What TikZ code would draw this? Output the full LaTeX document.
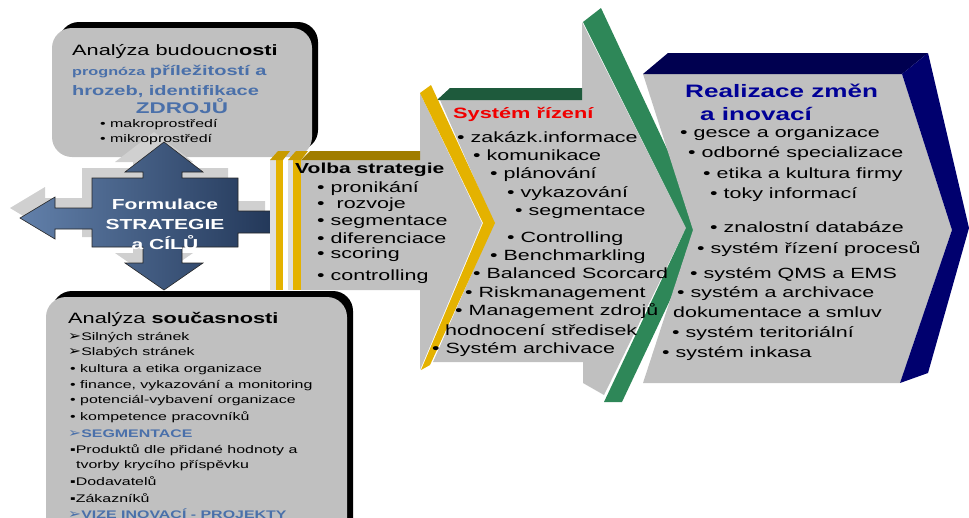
\documentclass[tikz,border=0pt]{standalone}
\usepackage{fontspec}
\setmainfont[FakeStretch=1.45]{Liberation Sans}
\newfontfamily\symfont[FakeStretch=1.2]{DejaVu Sans}
\usepackage{tikz}
\usetikzlibrary{positioning}
\usepackage{xcolor}
\definecolor{panelgray}{RGB}{192,192,192}
\definecolor{ghostgray}{RGB}{208,208,208}
\definecolor{crossL}{RGB}{98,128,170}
\definecolor{crossR}{RGB}{34,55,88}
\definecolor{baryellow}{RGB}{228,178,0}
\definecolor{capyellow}{RGB}{200,155,0}
\definecolor{olivetop}{RGB}{160,125,0}
\definecolor{greentop}{RGB}{30,90,60}
\definecolor{greenband}{RGB}{46,135,88}
\definecolor{navyface}{RGB}{0,0,110}
\definecolor{navytop}{RGB}{0,0,80}
\definecolor{titlenavy}{RGB}{0,0,150}
\definecolor{steelblue}{RGB}{74,112,170}
\definecolor{titlered}{RGB}{240,0,0}
\newcommand{\arr}{{\symfont\fontsize{13}{12}\selectfont\char"27A2}}
\tikzstyle{panel} = [fill=panelgray, draw=none]
\tikzstyle{boxtxt} = [anchor=base west, inner sep=0pt, font=\fontsize{11}{12}\selectfont]
\tikzstyle{chevtxt} = [anchor=base west, inner sep=0pt, font=\fontsize{14.8}{16}\selectfont]
\tikzstyle{headtxt} = [anchor=base west, inner sep=0pt, font=\fontsize{15}{16}\selectfont]

\begin{document}
\begin{tikzpicture}[x=1pt, y=-1pt]
\useasboundingbox (0,0) rectangle (969,517);
\clip (0,0) rectangle (969,517);

% Volba strategie
\path[panel] (301,160) -- (420,160) -- (420,93) -- (482,223) -- (420,370) -- (420,290) -- (301,290) -- cycle;
\fill[olivetop] (301,160) -- (310,151) -- (420,151) -- (420,160) -- cycle;

% System rizeni
\path[panel] (440,100) -- (582,100) -- (582,22) -- (686,228) -- (604,395) -- (583,383) -- (583,362) -- (433,362) -- (494,223) -- cycle;
\fill[greentop] (437,100) -- (450,88) -- (582,88) -- (582,100) -- cycle;
\fill[baryellow] (420,93) -- (431,85) -- (495,223) -- (430,365) -- (421,370) -- (483,223) -- cycle;
\fill[greenband] (583,22) -- (601,8) -- (704,228) -- (622,402) -- (604,402) -- (686,228) -- cycle;

% Realizace
\path[panel] (643,74) -- (902,74) -- (952,230) -- (900,383) -- (643,383) -- (693,230) -- cycle;
\fill[navytop] (643,74) -- (668,53) -- (928,53) -- (902,74) -- cycle;
\fill[navyface] (902,74) -- (928,53) -- (969,228) -- (928,373) -- (900,383) -- (952,230) -- cycle;

% Boxes
\fill[black, rounded corners=20] (59,22) rectangle (318,150);
\path[panel, rounded corners=20] (52,28) rectangle (312,157);
\fill[black, rounded corners=20] (52,291) rectangle (353,540);
\path[panel, rounded corners=20] (46,297) rectangle (347,550);

% Cross
\fill[ghostgray, shift={(-10,-10)}] (92,178) -- (143,178) -- (143,172) -- (125,172) -- (164,142) -- (203,172) -- (182,172) -- (182,178) -- (238,178) -- (238,211) -- (275,211) -- (275,233) -- (238,233) -- (238,247) -- (182,247) -- (182,263) -- (203,263) -- (164,290) -- (125,263) -- (143,263) -- (143,247) -- (92,247) -- (92,229) -- (55,229) -- (55,239) -- (20,218) -- (55,197) -- (55,208) -- (92,208) -- cycle;
\path[left color=crossL, right color=crossR, draw=black!85, line width=0.6pt] (92,178) -- (143,178) -- (143,172) -- (125,172) -- (164,142) -- (203,172) -- (182,172) -- (182,178) -- (238,178) -- (238,211) -- (275,211) -- (275,233) -- (238,233) -- (238,247) -- (182,247) -- (182,263) -- (203,263) -- (164,290) -- (125,263) -- (143,263) -- (143,247) -- (92,247) -- (92,229) -- (55,229) -- (55,239) -- (20,218) -- (55,197) -- (55,208) -- (92,208) -- cycle;
\node (formul) at (165,224) [inner sep=0pt, align=center, text=white, font=\bfseries\fontsize{14.5}{20}\selectfont] {Formulace\\STRATEGIE\\a CÍLŮ};

% Bars
\fill[gray!25] (270,160) rectangle (276,290);
\fill[baryellow] (276,160) rectangle (283,290);
\fill[capyellow] (270,160) -- (278,151) -- (290,151) -- (283,160) -- cycle;
\fill[gray!25] (288,160) rectangle (293,290);
\fill[baryellow] (293,160) rectangle (301,290);
\fill[capyellow] (288,160) -- (296,151) -- (308,151) -- (301,160) -- cycle;

% Texts
\node[headtxt] (fut0) at (72,55) {Analýza budoucn\textbf{osti}};
\node[boxtxt, text=steelblue, font=\bfseries\fontsize{11.2}{12}\selectfont] (fut1) at (72,75) {prognóza {\fontsize{13.8}{14}\selectfont příležitostí a}};
\node[boxtxt, text=steelblue, font=\bfseries\fontsize{13.8}{14}\selectfont] (fut2) at (72,95) {hrozeb, identifikace};
\node[boxtxt, anchor=base, text=steelblue, font=\bfseries\fontsize{15.5}{16}\selectfont] (fut3) at (182,113) {ZDROJŮ};
\node[boxtxt] (fut4) at (100,127) {• makroprostředí};
\node[boxtxt] (fut5) at (100,142) {• mikroprostředí};

\node[headtxt] (cur0) at (68,323) {Analýza \textbf{současnosti}};
\foreach \tx/\ty/\txt [count=\i] in {
  68/340/{\arr Silných stránek},
  68/355/{\arr Slabých stránek},
  70/372/{• kultura a etika organizace},
  70/388/{• finance, vykazování a monitoring},
  70/403/{• potenciál-vybavení organizace},
  70/420/{• kompetence pracovníků},
  68/437/{\color{steelblue}\bfseries\arr SEGMENTACE},
  70/453/{▪Produktů dle přidané hodnoty a},
  76/468/{tvorby krycího příspěvku},
  70/485/{▪Dodavatelů},
  70/502/{▪Zákazníků},
  68/518/{\color{steelblue}\bfseries\arr VIZE INOVACÍ - PROJEKTY}}
  \node[boxtxt] (cur\i) at (\tx,\ty) {\txt};

\node[headtxt, font=\bfseries\fontsize{14.5}{16}\selectfont] (vol0) at (295,173) {Volba strategie};
\foreach \tx/\ty/\txt [count=\i] in {
  317/192/{• pronikání},
  317/208/{•\ \ rozvoje},
  317/225/{• segmentace},
  317/243/{• diferenciace},
  317/258/{• scoring},
  317/280/{• controlling}}
  \node[chevtxt] (vol\i) at (\tx,\ty) {\txt};

\node[headtxt, text=titlered, font=\bfseries\fontsize{15}{16}\selectfont] (sys0) at (453,118) {Systém řízení};
\foreach \tx/\ty/\txt [count=\i] in {
  457/142/{• zakázk.informace},
  473/160/{• komunikace},
  490/178/{• plánování},
  507/197/{• vykazování},
  515/215/{• segmentace},
  507/242/{• Controlling},
  490/260/{• Benchmarkling},
  473/278/{• Balanced Scorcard},
  465/297/{• Riskmanagement},
  455/315/{• Management zdrojů},
  445/335/{hodnocení středisek},
  432/353/{• Systém archivace}}
  \node[chevtxt] (sys\i) at (\tx,\ty) {\txt};

\node[headtxt, text=titlenavy, font=\bfseries\fontsize{18}{20}\selectfont] (rea0) at (685,97) {Realizace změn};
\node[headtxt, text=titlenavy, font=\bfseries\fontsize{18}{20}\selectfont] (rea00) at (700,120) {a inovací};
\foreach \tx/\ty/\txt [count=\i] in {
  680/137/{• gesce a organizace},
  688/157/{• odborné specializace},
  703/178/{• etika a kultura firmy},
  710/198/{• toky informací},
  710/232/{• znalostní databáze},
  697/253/{• systém řízení procesů},
  690/278/{• systém QMS a EMS},
  677/297/{• systém a archivace},
  673/317/{dokumentace a smluv},
  672/337/{• systém teritoriální},
  662/357/{• systém inkasa}}
  \node[chevtxt] (rea\i) at (\tx,\ty) {\txt};
\end{tikzpicture}
\end{document}
